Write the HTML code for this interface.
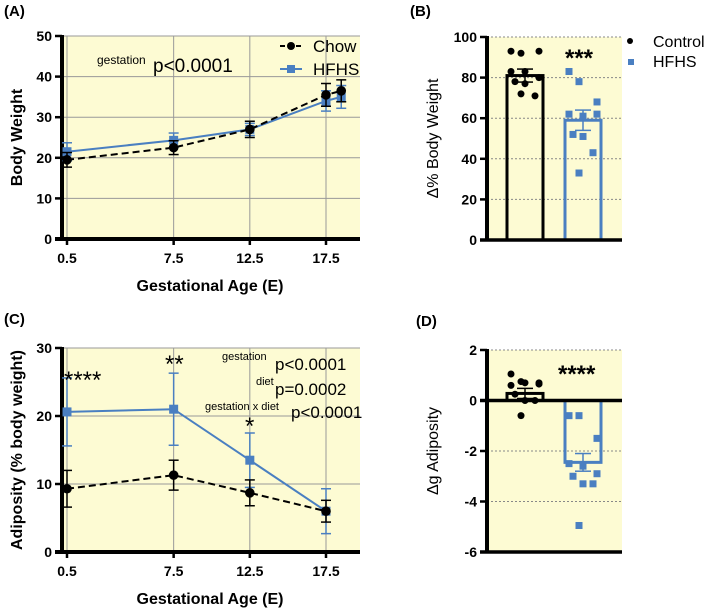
<!DOCTYPE html>
<html><head><meta charset="utf-8"><style>
body{margin:0;background:#fff;width:709px;height:611px;overflow:hidden}
svg{display:block;font-family:"Liberation Sans",Arial,sans-serif}
</style></head><body>
<svg id="c" width="709" height="611"></svg>
<script>
const xA=[0.5,7.5,12.5,17.5,18.5];
const chowA=[19.5,22.5,27,35.5,36.5];
const chowAerr=[1.8,1.7,2,2.8,2.7];
const hfhsA=[21.5,24.3,27,34,35];
const hfhsAerr=[2.2,1.8,1.5,2.5,2.8];
const ticksAY=[0,10,20,30,40,50];
const ticksX=[0.5,7.5,12.5,17.5];
const xC=[0.5,7.5,12.5,17.5];
const chowC=[9.3,11.3,8.7,6.0];
const chowCerr=[2.7,2.2,1.9,1.6];
const hfhsC=[20.6,21.0,13.5,6.0];
const hfhsCerr=[5,5.3,4,3.3];
const ticksCY=[0,10,20,30];
const ctrlB=[93,92,93,83,83,80,78,77,71,72];
const hfhsB=[83,78,68,62,61,62,52,51,43,33];
const meanB=[81,59];const semB=[3.2,5];
const ticksBY=[0,20,40,60,80,100];
const ctrlD=[1.05,0.75,0.7,0.6,0.7,0.65,0.25,0.0,0.0,-0.6];
const hfhsD=[-0.6,-0.6,-1.5,-2.5,-2.6,-2.9,-3.0,-3.3,-3.3,-4.95];
const meanD=[0.28,-2.45];const semD=[0.2,0.35];
const ticksDY=[-6,-4,-2,0,2];
const svg=document.getElementById('c');const NS='http://www.w3.org/2000/svg';
function el(t,a,p){const e=document.createElementNS(NS,t);for(const k in a)e.setAttribute(k,a[k]);(p||svg).appendChild(e);return e;}
function txt(s,a,p){const e=el('text',a,p);e.textContent=s;return e;}
const BLUE='#4a7fc1',BG='#fdfbd3';
function lin(d0,d1,r0,r1){return v=>r0+(v-d0)*(r1-r0)/(d1-d0);}

function lab(s,x,y,n){const t=txt(s,{x:x,y:y,'font-size':15,'font-weight':'bold'});}
lab('(A)',4,16,'panel-a-label');lab('(B)',410,16,'panel-b-label');lab('(C)',4,324,'panel-c-label');lab('(D)',416,326,'panel-d-label');

function linePanel(g,top,bot,ymax,xs,yTicks,chow,chowE,hf,hfE,ytitle){
 const X=lin(0.5,17.5,67,326),Y=lin(0,ymax,bot,top);
 el('rect',{x:62,y:top,width:298,height:bot-top,fill:BG},g);
 ticksX.forEach(t=>el('line',{x1:X(t),x2:X(t),y1:top,y2:bot,stroke:'#999','stroke-width':1},g));
 yTicks.forEach(t=>{el('line',{x1:62,x2:360,y1:Y(t),y2:Y(t),stroke:'#999','stroke-width':1},g);
  el('line',{x1:55,x2:62,y1:Y(t),y2:Y(t),stroke:'#000','stroke-width':2.5},g);
  txt(t,{x:52,y:Y(t)+5,'font-size':14,'font-weight':'bold','text-anchor':'end'},g);});
 ticksX.forEach(t=>{el('line',{x1:X(t),x2:X(t),y1:bot,y2:bot+6,stroke:'#000','stroke-width':2.5},g);
  txt(t,{x:X(t),y:bot+24,'font-size':14,'font-weight':'bold','text-anchor':'middle'},g);});
 el('line',{x1:62,x2:62,y1:top-1,y2:bot+1,stroke:'#000','stroke-width':4},g);
 el('line',{x1:55,x2:360,y1:bot,y2:bot,stroke:'#000','stroke-width':4},g);
 txt('Gestational  Age  (E)',{x:210,y:bot+52,'font-size':16,'font-weight':'bold','text-anchor':'middle'},g);
 txt(ytitle,{x:0,y:0,'font-size':16,'font-weight':'bold','text-anchor':'middle',transform:`translate(22,${(top+bot)/2}) rotate(-90)`},g);
 function series(v,e,col,dash,sq,name){
  const sg=el('g',{},g);
  v.forEach((y,i)=>{const x=X(xs[i]);el('line',{x1:x,x2:x,y1:Y(y-e[i]),y2:Y(y+e[i]),stroke:col,'stroke-width':1.5},sg);
   [y-e[i],y+e[i]].forEach(q=>el('line',{x1:x-5,x2:x+5,y1:Y(q),y2:Y(q),stroke:col,'stroke-width':1.5},sg));});
  el('polyline',{points:v.map((y,i)=>X(xs[i])+','+Y(y)).join(' '),fill:'none',stroke:col,'stroke-width':2,'stroke-dasharray':dash},sg);
  v.forEach((y,i)=>{const x=X(xs[i]);if(sq)el('rect',{x:x-4.5,y:Y(y)-4.5,width:9,height:9,fill:col},sg);else el('circle',{cx:x,cy:Y(y),r:4.8,fill:col},sg);});
 }
 series(hf,hfE,BLUE,'',true,'hfhs-series');
 series(chow,chowE,'#000','7,4',false,'chow-series');
}
const gA=el('g',{});
linePanel(gA,36,239,50,xA,ticksAY,chowA,chowAerr,hfhsA,hfhsAerr,'Body Weight');
txt('gestation',{x:97,y:64,'font-size':12},gA);txt('p<0.0001',{x:153,y:72,'font-size':19},gA);
el('line',{x1:280,x2:302,y1:46,y2:46,stroke:'#000','stroke-width':2,'stroke-dasharray':'5,3'},gA);el('circle',{cx:291,cy:46,r:4,fill:'#000'},gA);
txt('Chow',{x:313,y:52,'font-size':17},gA);
el('line',{x1:280,x2:302,y1:69,y2:69,stroke:BLUE,'stroke-width':2},gA);el('rect',{x:287,y:65,width:8,height:8,fill:BLUE},gA);
txt('HFHS',{x:313,y:75,'font-size':17},gA);

const gC=el('g',{});
linePanel(gC,348,552,30,xC,ticksCY,chowC,chowCerr,hfhsC,hfhsCerr,'Adiposity (% body weight)');
txt('****',{x:64,y:388,'font-size':24},gC);txt('**',{x:165,y:372,'font-size':24},gC);txt('*',{x:245,y:434,'font-size':24},gC);
txt('gestation',{x:222,y:360,'font-size':11},gC);txt('p<0.0001',{x:275,y:370,'font-size':17},gC);
txt('diet',{x:256,y:385,'font-size':11},gC);txt('p=0.0002',{x:275,y:395,'font-size':17},gC);
txt('gestation x diet',{x:205,y:410,'font-size':11},gC);txt('p<0.0001',{x:291,y:418,'font-size':17},gC);

function barPanel(g,top,bot,ymin,ymax,ticks,ctrl,hf,mean,sem,ytitle){
 const Y=lin(ymin,ymax,bot,top);
 el('rect',{x:487,y:top,width:135,height:bot-top,fill:BG},g);
 ticks.forEach(t=>{el('line',{x1:487,x2:622,y1:Y(t),y2:Y(t),stroke:'#888','stroke-width':1,'stroke-dasharray':'2,2'},g);
  el('line',{x1:480,x2:487,y1:Y(t),y2:Y(t),stroke:'#000','stroke-width':2.5},g);
  txt(t,{x:477,y:Y(t)+5,'font-size':14,'font-weight':'bold','text-anchor':'end'},g);});
 const z=Y(Math.max(0,ymin));
 const cx=[525,583],cols=['#000',BLUE],data=[ctrl,hf];
 cx.forEach((c,i)=>{const b=el('rect',{x:c-18,y:Math.min(Y(mean[i]),z),width:36,height:Math.abs(Y(mean[i])-z),fill:'none',stroke:cols[i],'stroke-width':3},g);
  
  el('line',{x1:c,x2:c,y1:Y(mean[i]-sem[i]),y2:Y(mean[i]+sem[i]),stroke:cols[i],'stroke-width':1.5},g);
  [mean[i]-sem[i],mean[i]+sem[i]].forEach(q=>el('line',{x1:c-8,x2:c+8,y1:Y(q),y2:Y(q),stroke:cols[i],'stroke-width':1.5},g));
  const off=[-14,-4,14,-14,0,14,-10,0,10,-4];
  data[i].forEach((v,j)=>{const x=c+off[j];if(i)el('rect',{x:x-3.5,y:Y(v)-3.5,width:7,height:7,fill:BLUE},g);else el('circle',{cx:x,cy:Y(v),r:3.5,fill:'#000'},g);});
 });
 el('line',{x1:487,x2:487,y1:top-1,y2:bot+1,stroke:'#000','stroke-width':4},g);
 el('line',{x1:480,x2:622,y1:Y(0),y2:Y(0),stroke:'#000','stroke-width':3.5},g);
 if(ymin<0)el('line',{x1:480,x2:622,y1:bot,y2:bot,stroke:'#000','stroke-width':3.5},g);
 txt(ytitle,{x:0,y:0,'font-size':16,'text-anchor':'middle',transform:`translate(438,${(top+bot)/2}) rotate(-90)`},g);
}
const gB=el('g',{});
barPanel(gB,37,240,0,100,ticksBY,ctrlB,hfhsB,meanB,semB,'Δ% Body Weight');
txt('***',{x:565,y:66,'font-size':24,'font-weight':'bold'},gB);
el('circle',{cx:630,cy:41,r:3,fill:'#000'},gB);txt('Control',{x:653,y:47,'font-size':16},gB);
el('rect',{x:628,y:59,width:6,height:6,fill:BLUE},gB);txt('HFHS',{x:653,y:67,'font-size':16},gB);
const gD=el('g',{});
barPanel(gD,350,552,-6,2,ticksDY,ctrlD,hfhsD,meanD,semD,'Δg Adiposity');
txt('****',{x:558,y:382,'font-size':24,'font-weight':'bold'},gD);
</script>
</body></html>
